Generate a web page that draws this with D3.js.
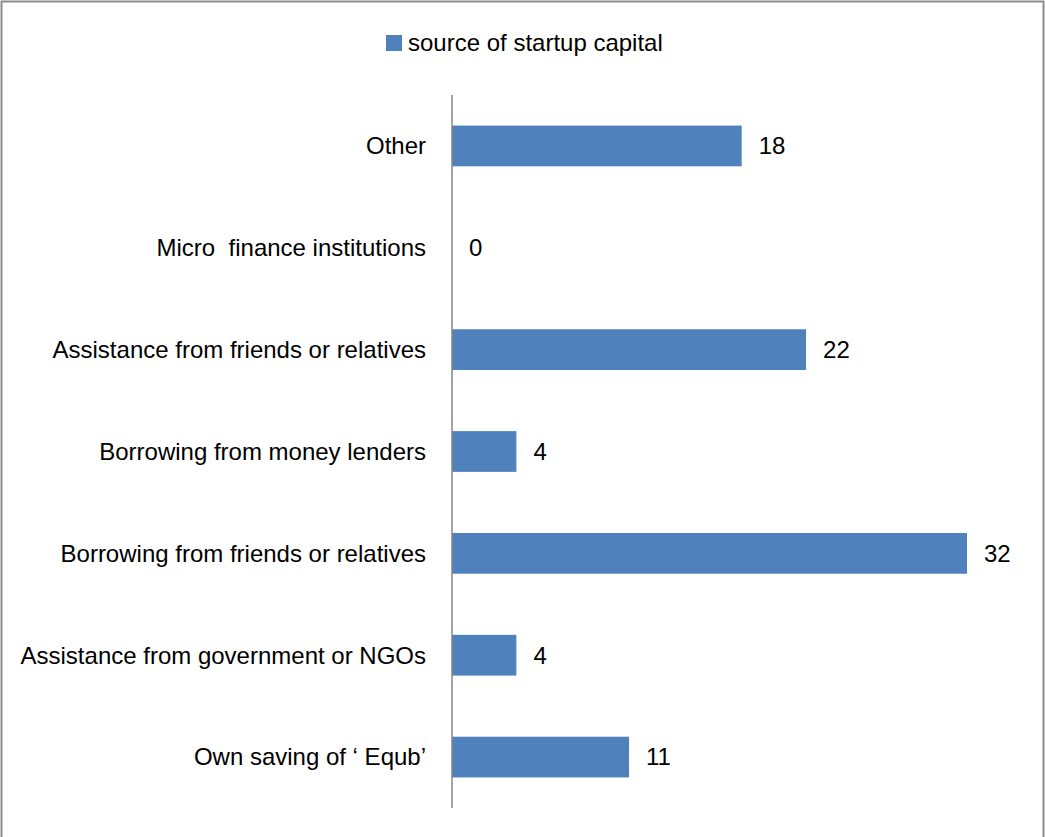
<!DOCTYPE html>
<html><head><meta charset="utf-8">
<script src="https://cdn.jsdelivr.net/npm/d3@7"></script>
<style>body{margin:0;background:#fff}svg{display:block}text{white-space:pre}</style>
</head><body>
<svg id="c" width="1045" height="837"></svg>
<script>
const categories = ["Other","Micro  finance institutions","Assistance from friends or relatives","Borrowing from money lenders","Borrowing from friends or relatives","Assistance from government or NGOs","Own saving of \u2018 Equb\u2019"];
const values = [18,0,22,4,32,4,11];
const seriesName = "source of startup capital";

const svg = d3.select("#c");
const font = "'Liberation Sans', Arial, sans-serif";
const fs = 24;
svg.append("rect").attr("x",1.5).attr("y",1.5).attr("width",1042).attr("height",840)
  .attr("fill","#fff").attr("stroke","#8c8c8c").attr("stroke-width",2);

const x = d3.scaleLinear().domain([0,32]).range([452,967]);
const y = d3.scaleBand().domain(categories).range([95,808]).paddingInner(0.6).paddingOuter(0.3);

svg.selectAll("rect.bar").data(values).join("rect").attr("class","bar")
  .attr("x",x(0)).attr("y",(d,i)=>y(categories[i]))
  .attr("width",d=>x(d)-x(0)).attr("height",y.bandwidth())
  .attr("fill","#4F81BD");

const yAxis = svg.append("g").attr("transform",`translate(${x(0)},0)`)
  .call(d3.axisLeft(y).tickSize(0).tickPadding(26));
yAxis.select(".domain").remove();
yAxis.selectAll("text").attr("font-family",font).attr("font-size",fs).attr("fill","#000").attr("dy","0.35em");
svg.append("line").attr("x1",x(0)).attr("x2",x(0)).attr("y1",95).attr("y2",808)
  .attr("stroke","#868686").attr("stroke-width",1.5);

svg.selectAll("text.val").data(values).join("text").attr("class","val")
  .attr("x",d=>x(d)+17).attr("y",(d,i)=>y(categories[i])+y.bandwidth()/2)
  .attr("dy","0.35em").attr("font-family",font).attr("font-size",fs).attr("fill","#000")
  .text(d=>d);

const lg = svg.append("g");
lg.append("rect").attr("x",386).attr("y",35).attr("width",16).attr("height",16).attr("fill","#4F81BD");
lg.append("text").attr("x",408).attr("y",43).attr("dy","0.35em").attr("font-family",font)
  .attr("font-size",fs).attr("fill","#000").text(seriesName);
</script>
</body></html>
